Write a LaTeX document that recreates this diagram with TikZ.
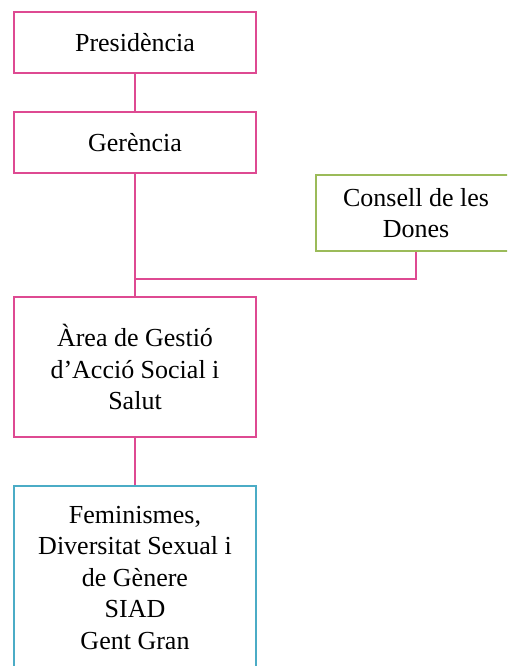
\documentclass[tikz,border=0pt]{standalone}
\usepackage{fontspec}
\setmainfont{Liberation Serif}
\usepackage{tikz}
\definecolor{rosa}{HTML}{DE4A92}
\definecolor{verd}{HTML}{9BBB59}
\definecolor{blau}{HTML}{4BACC6}
\tikzset{
  caixa/.style={draw=rosa, line width=1.4pt, fill=white, minimum width=242pt, align=center, font=\fontsize{26}{31.5}\selectfont, inner sep=0pt},
  caixav/.style={caixa, draw=verd, minimum width=200pt},
  caixab/.style={caixa, draw=blau},
  lin/.style={draw=rosa, line width=1.4pt},
}
\begin{document}
\begin{tikzpicture}[x=1pt,y=-1pt]
  \useasboundingbox (0,0) rectangle (507,666);
  \clip (0,0) rectangle (507,666);
  \node[caixa, minimum height=61pt] (pres) at (135,42.5) {Presidència};
  \node[caixa, minimum height=61pt] (ger) at (135,142.5) {Gerència};
  \node[caixav, minimum height=76pt] (cons) at (416,213) {Consell de les\\Dones};
  \node[caixa, minimum height=140pt] (area) at (135,367) {Àrea de Gestió\\d’Acció Social i\\Salut};
  \node[caixab, minimum height=184pt] (fem) at (135,578) {Feminismes,\\Diversitat Sexual i\\de Gènere\\SIAD\\Gent Gran};
  \coordinate (unio) at (135,279);
  % connectors
  \draw[lin] (pres.south) -- (ger.north);
  \draw[lin] (ger.south) -- (area.north);
  \draw[lin] (cons.south) |- (unio);
  \draw[lin] (area.south) -- (fem.north);
\end{tikzpicture}
\end{document}
